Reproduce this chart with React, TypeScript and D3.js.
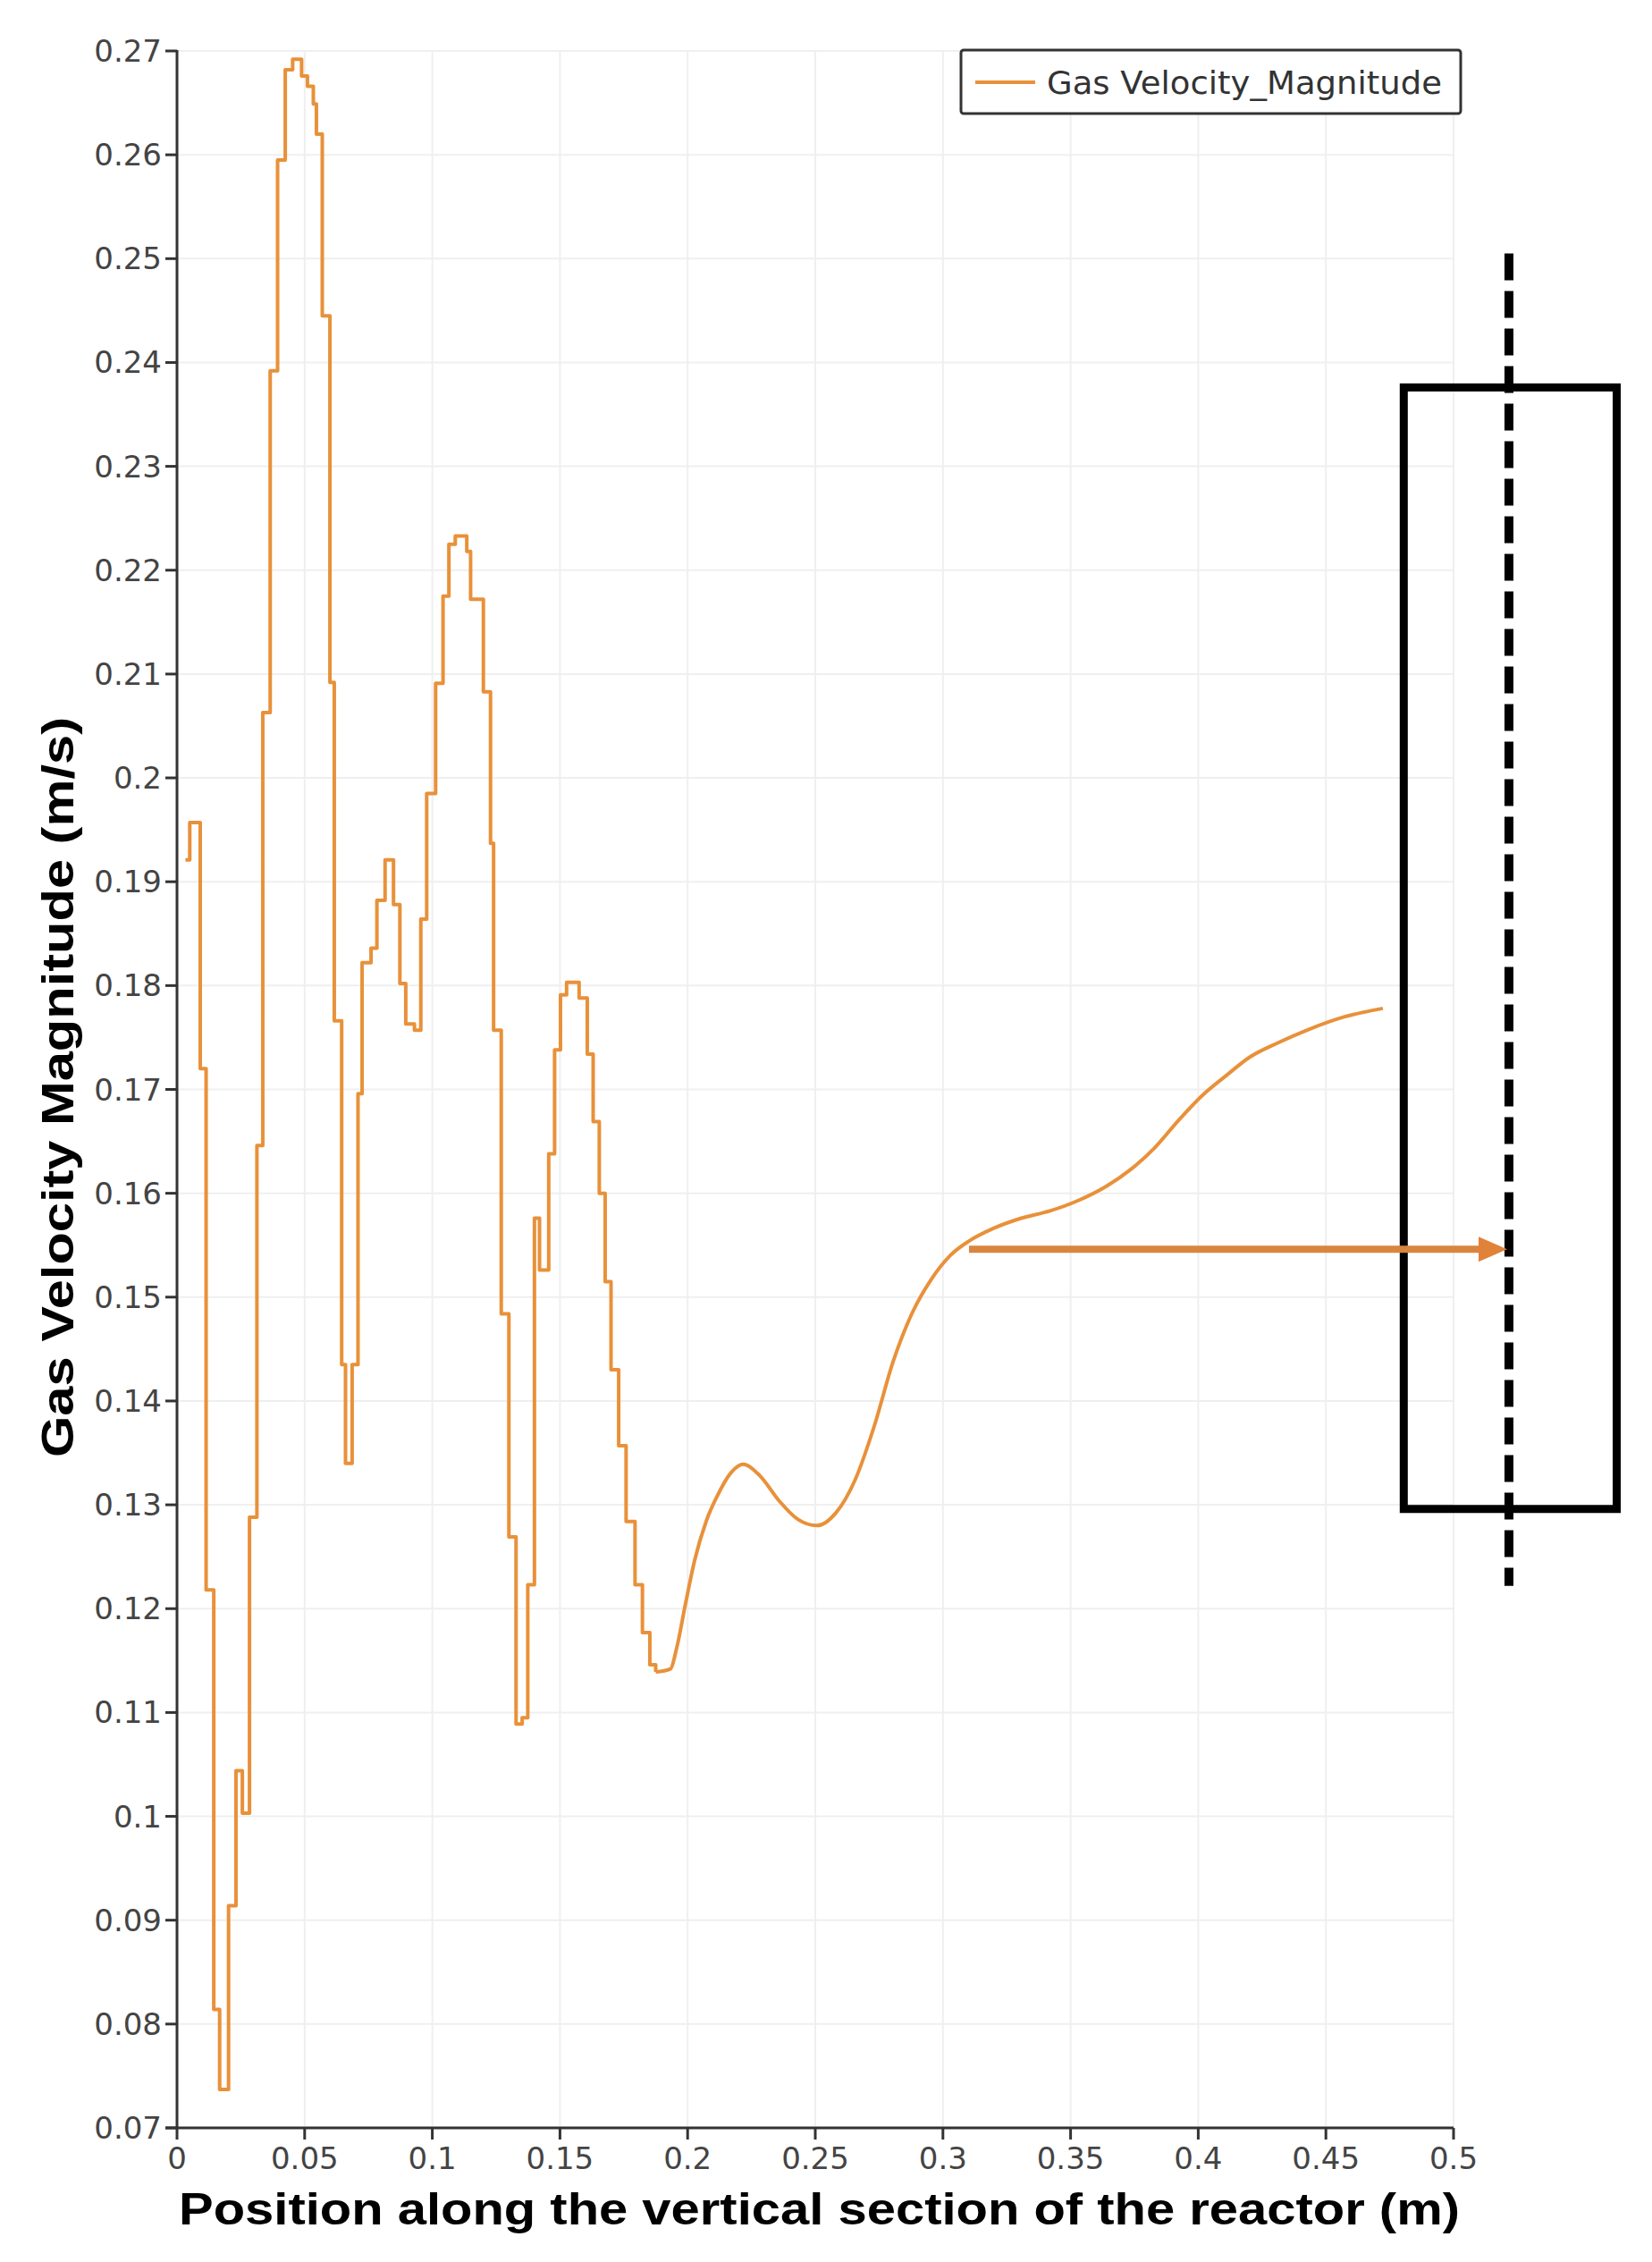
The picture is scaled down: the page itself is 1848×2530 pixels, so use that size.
import * as d3 from 'd3';
import React from 'react';

// stepped part of the profile (cell data): position where each level starts, and the level
const stepPositions = [
  0.0033, 0.005, 0.0091, 0.0114, 0.0144, 0.0167, 0.0202, 0.0231, 0.0256, 0.0284, 0.0313, 0.0336,
  0.0365, 0.0394, 0.0424, 0.0453, 0.0488, 0.0511, 0.0534, 0.0546, 0.0569, 0.0599, 0.0616, 0.0645,
  0.066, 0.0686, 0.0709, 0.0725, 0.076, 0.0783, 0.0815, 0.0848, 0.0873, 0.0896, 0.093, 0.0955,
  0.0978, 0.1013, 0.1042, 0.1065, 0.109, 0.1135, 0.115, 0.12, 0.1228, 0.124, 0.127, 0.13, 0.1328,
  0.1352, 0.1374, 0.14, 0.142, 0.1456, 0.1479, 0.1502, 0.1526, 0.1575, 0.1607, 0.163, 0.1654,
  0.1677, 0.17, 0.173, 0.1759, 0.1794, 0.1823, 0.1852, 0.1875,
];
const stepVelocities = [
  0.1921, 0.1957, 0.172, 0.1218, 0.0814, 0.0737, 0.0914, 0.1044, 0.1003, 0.1288, 0.1646, 0.2063,
  0.2392, 0.2595, 0.2682, 0.2692, 0.2676, 0.2666, 0.2649, 0.262, 0.2445, 0.2092, 0.1766, 0.1435,
  0.134, 0.1435, 0.1696, 0.1822, 0.1836, 0.1882, 0.1921, 0.1878, 0.1802, 0.1763, 0.1757, 0.1864,
  0.1985, 0.2091, 0.2175, 0.2225, 0.2233, 0.2218, 0.2172, 0.2083, 0.1937, 0.1757, 0.1484, 0.1269,
  0.1089, 0.1095, 0.1223, 0.1576, 0.1526, 0.1638, 0.1738, 0.1791, 0.1803, 0.1788, 0.1734, 0.1669,
  0.16, 0.1515, 0.143, 0.1357, 0.1284, 0.1223, 0.1177, 0.1146, 0.1139,
];

// smooth upper part of the profile
const tailPositions = [
  0.1875, 0.1933, 0.1957, 0.1992, 0.2027, 0.2074, 0.2115, 0.217, 0.2218, 0.2283, 0.2358, 0.2432,
  0.2507, 0.258, 0.2656, 0.273, 0.2805, 0.288, 0.2954, 0.3028, 0.3102, 0.3196, 0.3307, 0.3419,
  0.353, 0.3642, 0.3736, 0.383, 0.3922, 0.4015, 0.4108, 0.4201, 0.4313, 0.4425, 0.4574, 0.4723,
];
const tailVelocities = [
  0.1139, 0.1142, 0.1162, 0.1205, 0.1246, 0.1285, 0.1308, 0.1331, 0.1339, 0.1328, 0.1304, 0.1286,
  0.128, 0.1292, 0.1324, 0.1375, 0.1438, 0.1485, 0.1517, 0.154, 0.1554, 0.1566, 0.1576, 0.1583,
  0.1593, 0.1607, 0.1623, 0.1644, 0.167, 0.1694, 0.1713, 0.1731, 0.1745, 0.1757, 0.177, 0.1778,
];

const xTicks = [0, 0.05, 0.1, 0.15, 0.2, 0.25, 0.3, 0.35, 0.4, 0.45, 0.5];
const yTicks = [
  0.07, 0.08, 0.09, 0.1, 0.11, 0.12, 0.13, 0.14, 0.15, 0.16, 0.17, 0.18, 0.19, 0.2, 0.21, 0.22,
  0.23, 0.24, 0.25, 0.26, 0.27,
];

const seriesName = 'Gas Velocity_Magnitude';
const xTitle = 'Position along the vertical section of the reactor (m)';
const yTitle = 'Gas Velocity Magnitude (m/s)';

// annotation (reactor sketch) in data units
const reactorLeft = 0.4805;
const reactorRight = 0.5639;
const reactorTop = 0.2376;
const reactorBottom = 0.1296;
const axisLineX = 0.5217;
const axisLineTop = 0.2505;
const axisLineBottom = 0.1222;
const arrowStart = 0.3102;
const arrowEnd = 0.521;
const arrowLevel = 0.1546;

const W = 1848;
const H = 2530;
const LINE = '#e8913a';
const fmt = (v: number) => String(+v.toFixed(2));

export default function App() {
  const x = d3.scaleLinear().domain([0, 0.5]).range([198, 1626]);
  const y = d3.scaleLinear().domain([0.07, 0.27]).range([2380, 57]);

  const steps = stepPositions.map((p, i) => [p, stepVelocities[i]] as [number, number]);
  const tail = tailPositions.map((p, i) => [p, tailVelocities[i]] as [number, number]);

  const stepLine = d3
    .line<[number, number]>()
    .x((d) => x(d[0]))
    .y((d) => y(d[1]))
    .curve(d3.curveStepAfter);
  const smoothLine = d3
    .line<[number, number]>()
    .x((d) => x(d[0]))
    .y((d) => y(d[1]))
    .curve(d3.curveMonotoneX);

  const x0 = x(0);
  const x1 = x(0.5);
  const yb = y(0.07);
  const yt = y(0.27);
  const tipX = x(arrowEnd);
  const arrowY = y(arrowLevel);

  return (
    <div style={{ position: 'absolute', left: 0, top: 0 }}>
      <svg width={W} height={H} style={{ display: 'block', background: '#fff' }}>
        {/* grid */}
        <g stroke="#efefef" strokeWidth={2}>
          {xTicks.slice(1).map((t) => (
            <line key={'gx' + t} x1={x(t)} x2={x(t)} y1={yt} y2={yb} />
          ))}
          {yTicks.slice(1).map((t) => (
            <line key={'gy' + t} x1={x0} x2={x1} y1={y(t)} y2={y(t)} />
          ))}
        </g>

        {/* axes */}
        <g stroke="#333" strokeWidth={3}>
          <line x1={x0} x2={x0} y1={yt - 1} y2={yb} />
          <line x1={x0 - 13} x2={x1} y1={yb} y2={yb} />
          {yTicks.map((t) => (
            <line key={'ty' + t} x1={x0 - 13} x2={x0} y1={y(t)} y2={y(t)} />
          ))}
          {xTicks.map((t) => (
            <line key={'tx' + t} x1={x(t)} x2={x(t)} y1={yb} y2={yb + 13} />
          ))}
        </g>
        <g fontFamily="DejaVu Sans" fontSize={34} fill="#444">
          {yTicks.map((t) => (
            <text key={'ly' + t} x={x0 - 17} y={y(t)} textAnchor="end" dominantBaseline="central">
              {fmt(t)}
            </text>
          ))}
          {xTicks.map((t) => (
            <text key={'lx' + t} x={x(t)} y={yb + 46} textAnchor="middle">
              {fmt(t)}
            </text>
          ))}
        </g>

        {/* axis titles */}
        <text
          x={200}
          y={2488}
          fontFamily="Liberation Sans"
          fontWeight="bold"
          fontSize={50}
          fill="#000"
          textLength={1433}
          lengthAdjust="spacingAndGlyphs"
        >
          {xTitle}
        </text>
        <text
          transform="translate(82,1630) rotate(-90)"
          fontFamily="Liberation Sans"
          fontWeight="bold"
          fontSize={50}
          fill="#000"
          textLength={828}
          lengthAdjust="spacingAndGlyphs"
        >
          {yTitle}
        </text>

        {/* series */}
        <g fill="none" stroke={LINE} strokeWidth={4} strokeLinejoin="round">
          <path d={stepLine(steps) ?? ''} />
          <path d={smoothLine(tail) ?? ''} />
        </g>

        {/* reactor sketch annotation */}
        <rect
          x={x(reactorLeft)}
          y={y(reactorTop)}
          width={x(reactorRight) - x(reactorLeft)}
          height={y(reactorBottom) - y(reactorTop)}
          fill="none"
          stroke="#000"
          strokeWidth={9}
        />
        <line
          x1={x(axisLineX)}
          x2={x(axisLineX)}
          y1={y(axisLineTop)}
          y2={y(axisLineBottom)}
          stroke="#000"
          strokeWidth={10}
          strokeDasharray="30 12"
        />
        <line
          x1={x(arrowStart)}
          x2={tipX - 28}
          y1={arrowY}
          y2={arrowY}
          stroke="#d9843f"
          strokeWidth={8}
        />
        <polygon
          points={`${tipX},${arrowY} ${tipX - 32},${arrowY - 14} ${tipX - 32},${arrowY + 14}`}
          fill="#e0823a"
        />

        {/* legend */}
        <rect x={1075} y={56} width={559} height={71} rx={3} fill="#fff" stroke="#333" strokeWidth={3} />
        <line x1={1091} x2={1158} y1={92} y2={92} stroke={LINE} strokeWidth={4} />
        <text
          x={1171}
          y={105}
          fontFamily="DejaVu Sans"
          fontSize={36}
          fill="#333"
          textLength={442}
          lengthAdjust="spacingAndGlyphs"
        >
          {seriesName}
        </text>
      </svg>
    </div>
  );
}
